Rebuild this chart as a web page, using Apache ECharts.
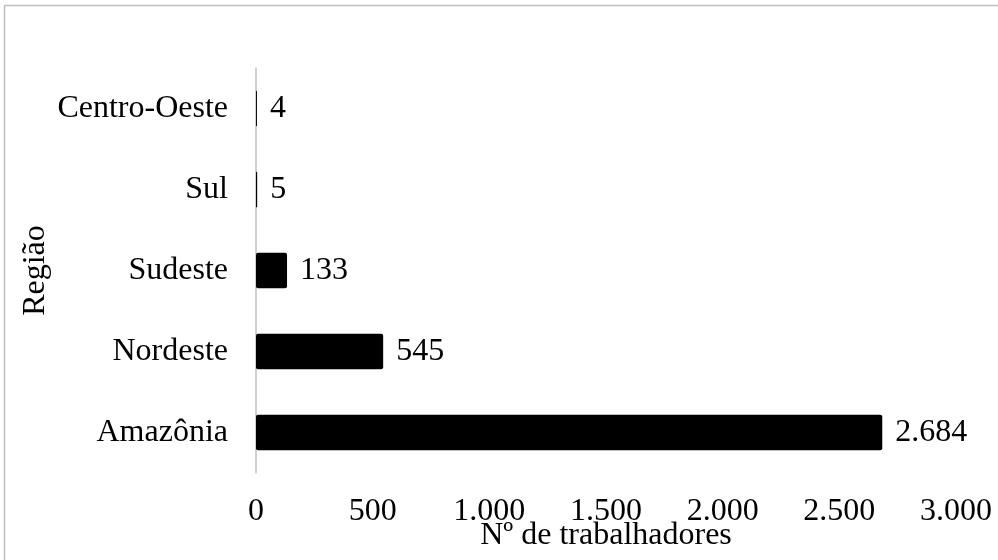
<!DOCTYPE html>
<html>
<head>
<meta charset="utf-8">
<script src="https://cdn.jsdelivr.net/npm/echarts@6/dist/echarts.min.js"></script>
<style>
  html, body { margin: 0; padding: 0; background: #fff; }
  #chart { width: 998px; height: 560px; }
</style>
</head>
<body>
<div id="chart"></div>
<script>
// Trabalhadores por região
const regioes = ['Amazônia', 'Nordeste', 'Sudeste', 'Sul', 'Centro-Oeste'];
const trabalhadores = [2684, 545, 133, 5, 4];
const eixoX = { min: 0, max: 3000, interval: 500 };

const fonte = '"Liberation Serif", "Times New Roman", serif';
// thousands separator with a dot (pt-BR)
const fmtMilhar = v => String(v).replace(/\B(?=(\d{3})+(?!\d))/g, '.');

const chart = echarts.init(document.getElementById('chart'), null, { renderer: 'canvas' });
chart.setOption({
  backgroundColor: '#ffffff',
  textStyle: { fontFamily: fonte, color: '#000' },
  // light frame around the chart area
  graphic: [{
    type: 'rect',
    shape: { x: 4.5, y: 5.5, width: 1020, height: 600 },
    style: { fill: 'none', stroke: '#bfbfbf', lineWidth: 1.5 },
    silent: true
  }],
  grid: { left: 256, right: 42, top: 68, bottom: 87, containLabel: false, outerBoundsMode: 'none' },
  xAxis: {
    type: 'value',
    min: eixoX.min, max: eixoX.max, interval: eixoX.interval,
    axisLine: { show: false },
    axisTick: { show: false },
    splitLine: { show: false },
    axisLabel: {
      color: '#000', fontFamily: fonte, fontSize: 32, margin: 23,
      formatter: fmtMilhar
    },
    name: 'Nº de trabalhadores',
    nameLocation: 'middle',
    nameGap: 47,
    nameMoveOverlap: false,
    nameTextStyle: { color: '#000', fontFamily: fonte, fontSize: 32 }
  },
  yAxis: {
    type: 'category',
    data: regioes,
    axisLine: { show: true, lineStyle: { color: '#bfbfbf', width: 1.5 } },
    axisTick: { show: false },
    axisLabel: { color: '#000', fontFamily: fonte, fontSize: 32, margin: 28 },
    name: 'Região',
    nameLocation: 'middle',
    nameGap: 204,
    nameMoveOverlap: false,
    nameTextStyle: { color: '#000', fontFamily: fonte, fontSize: 32 }
  },
  series: [{
    type: 'bar',
    data: trabalhadores,
    barCategoryGap: '56%',
    itemStyle: { color: '#000', borderRadius: 2 },
    label: {
      show: true, position: 'right', distance: 13,
      color: '#000', fontFamily: fonte, fontSize: 32,
      formatter: p => fmtMilhar(p.value)
    },
    animation: false
  }],
  animation: false
});
</script>
</body>
</html>
